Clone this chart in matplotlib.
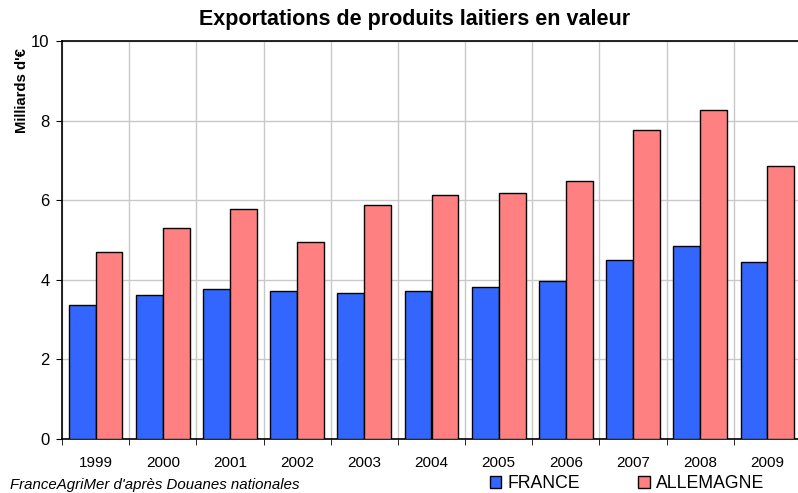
import numpy as np
import matplotlib.pyplot as plt
from matplotlib.patches import Patch

plt.rcParams['font.family'] = ['Liberation Sans', 'DejaVu Sans']

# Data (milliards d'euros)
years = ['1999', '2000', '2001', '2002', '2003', '2004', '2005', '2006', '2007', '2008', '2009']
france = [3.36, 3.63, 3.78, 3.73, 3.66, 3.73, 3.83, 3.98, 4.49, 4.86, 4.44]
allemagne = [4.69, 5.31, 5.79, 4.94, 5.89, 6.12, 6.19, 6.47, 7.76, 8.26, 6.87]

blue = '#3366FF'
red = '#FF8080'

fig = plt.figure(figsize=(7.98, 4.93), dpi=100)
ax = fig.add_axes([62 / 798, 54 / 493, 739 / 798, 398 / 493])

x = np.arange(len(years))
w = 0.4
ax.bar(x - w / 2, france, w, color=blue, edgecolor='black', linewidth=1, zorder=3)
ax.bar(x + w / 2, allemagne, w, color=red, edgecolor='black', linewidth=1, zorder=3)

ax.set_xlim(-0.5, len(years) - 0.5)
ax.set_ylim(0, 10)
ax.set_yticks([0, 2, 4, 6, 8, 10])
ax.set_xticks(x)
ax.set_xticklabels(years, fontsize=11)
ax.set_xticks(np.arange(-0.5, len(years)), minor=True)
ax.tick_params(axis='x', which='major', length=0, pad=12)
ax.tick_params(axis='x', which='minor', length=4, direction='out')
ax.tick_params(axis='y', labelsize=12, length=4, direction='out', pad=5)

ax.grid(axis='y', color='#c8c8c8', linewidth=1, zorder=0)
ax.grid(axis='x', which='minor', color='#c8c8c8', linewidth=1, zorder=0)
for s in ['left', 'bottom', 'top']:
    ax.spines[s].set_color('black')
    ax.spines[s].set_linewidth(1.2)
ax.spines['right'].set_visible(False)

fig.text(415 / 798, 1 - 20 / 493, 'Exportations de produits laitiers en valeur',
         ha='center', va='center', fontsize=15.5, fontweight='bold')
fig.text(22 / 798, 1 - 91 / 493, "Milliards d'€", rotation=90,
         ha='center', va='center', fontsize=10.7, fontweight='bold')
fig.text(10 / 798, 1 - 485 / 493, "FranceAgriMer d'après Douanes nationales",
         ha='left', va='center', fontsize=10.8, style='italic')

handles = [Patch(facecolor=blue, edgecolor='black'),
           Patch(facecolor=red, edgecolor='black')]
fig.legend(handles, ['FRANCE', 'ALLEMAGNE'], loc='center',
           bbox_to_anchor=(627 / 798, 1 - 484 / 493), ncol=2, frameon=False,
           fontsize=12.7, handlelength=0.65, handleheight=0.65, handletextpad=0.35,
           columnspacing=3.3, borderpad=0)

fig.savefig('out.png', dpi=100)
